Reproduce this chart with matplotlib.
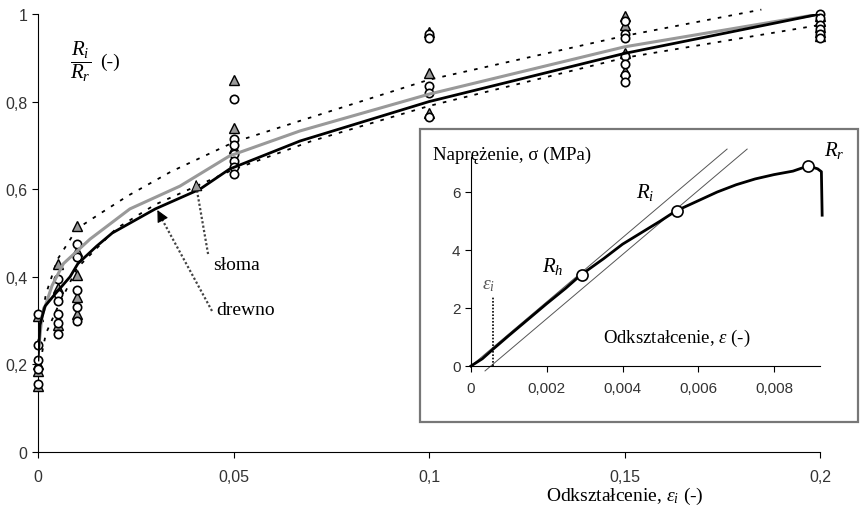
import numpy as np
import matplotlib
matplotlib.use("Agg")
import matplotlib.pyplot as plt
from matplotlib.patches import Rectangle, FancyArrowPatch

plt.rcParams.update({
    "font.family": "Liberation Sans",
    "mathtext.fontset": "custom",
    "mathtext.rm": "Liberation Serif",
    "mathtext.it": "Liberation Serif:italic",
    "mathtext.bf": "Liberation Serif:bold",
    "axes.unicode_minus": False,
})
SERIF = "Liberation Serif"

# --- main chart data: ratio R_i/R_r vs strain eps_i ---
drewno_x = [0, 0.0005, 0.0018, 0.0043, 0.0082, 0.0102, 0.015, 0.019, 0.030, 0.0414, 0.049, 0.067, 0.1, 0.15, 0.2]
drewno_y = [0.21, 0.29, 0.333, 0.36, 0.40, 0.43, 0.47, 0.50, 0.555, 0.60, 0.646, 0.71, 0.80, 0.91, 1.0]
sloma_x = [0, 0.001, 0.0036, 0.0065, 0.0133, 0.0235, 0.0363, 0.049, 0.067, 0.1, 0.15, 0.2]
sloma_y = [0.22, 0.31, 0.38, 0.43, 0.486, 0.555, 0.607, 0.676, 0.733, 0.817, 0.925, 1.0]
upper_x = [0, 0.002, 0.005, 0.01, 0.016, 0.023, 0.034, 0.05, 0.067, 0.1, 0.15, 0.185]
upper_y = [0.25, 0.36, 0.44, 0.51, 0.545, 0.585, 0.64, 0.707, 0.756, 0.85, 0.95, 1.01]
lower_x = [0, 0.002, 0.005, 0.01, 0.02, 0.03, 0.05, 0.07, 0.1, 0.15, 0.2]
lower_y = [0.18, 0.27, 0.33, 0.42, 0.51, 0.565, 0.645, 0.71, 0.79, 0.9, 0.975]

# measured points (circles = drewno, triangles = sloma)
circ_x = [0]*5 + [0.005]*6 + [0.01]*5 + [0.05]*7 + [0.1]*5 + [0.15]*7 + [0.2]*6
circ_y = [0.315, 0.245, 0.21, 0.19, 0.155,
          0.395, 0.36, 0.345, 0.315, 0.295, 0.27,
          0.475, 0.445, 0.37, 0.33, 0.30,
          0.805, 0.715, 0.70, 0.68, 0.665, 0.65, 0.635,
          0.955, 0.945, 0.835, 0.82, 0.765,
          0.985, 0.955, 0.945, 0.905, 0.885, 0.86, 0.845,
          1.0, 0.99, 0.975, 0.965, 0.955, 0.945]
tri_x = [0]*4 + [0.005]*3 + [0.01]*5 + [0.05]*3 + [0.1]*3 + [0.15]*4 + [0.2]*5
tri_y = [0.31, 0.2, 0.185, 0.15,
         0.43, 0.375, 0.29,
         0.515, 0.46, 0.405, 0.355, 0.315,
         0.85, 0.74, 0.695,
         0.96, 0.865, 0.775,
         0.995, 0.975, 0.91, 0.87,
         0.995, 0.985, 0.97, 0.96, 0.95]

xticks = [0, 0.05, 0.1, 0.15, 0.2]
xtick_labels = ["0", "0,05", "0,1", "0,15", "0,2"]
yticks = [0, 0.2, 0.4, 0.6, 0.8, 1.0]
ytick_labels = ["0", "0,2", "0,4", "0,6", "0,8", "1"]

# --- inset data: stress-strain curve ---
curve_x = [0, 0.0003, 0.0006, 0.001, 0.0015, 0.002, 0.0025, 0.0029, 0.0035, 0.004, 0.0045, 0.005,
           0.0054, 0.006, 0.0065, 0.007, 0.0075, 0.008, 0.0085, 0.0089, 0.00915, 0.00925, 0.00927]
curve_y = [0, 0.25, 0.6, 1.05, 1.6, 2.15, 2.68, 3.14, 3.7, 4.2, 4.6, 5.0,
           5.34, 5.7, 6.0, 6.25, 6.45, 6.6, 6.72, 6.9, 6.8, 6.7, 5.2]
tan1_x, tan1_y = [0.0, 0.00676], [0.0, 7.48]
tan2_x, tan2_y = [0.00037, 0.00729], [-0.17, 7.48]
pts_x = [0.00293, 0.00544, 0.0089]
pts_y = [3.14, 5.34, 6.9]
eps_i = 0.00058
in_xticks = [0, 0.002, 0.004, 0.006, 0.008]
in_xtick_labels = ["0", "0,002", "0,004", "0,006", "0,008"]
in_yticks = [0, 2, 4, 6]

fig = plt.figure(figsize=(8.61, 5.10), dpi=100)
ax = fig.add_axes([38/861, 57/510, 782/861, 438/510])

ax.plot(upper_x, upper_y, color="black", lw=1.3, ls=(0, (2, 4)), clip_on=False, zorder=2)
ax.plot(lower_x, lower_y, color="black", lw=1.3, ls=(0, (2, 4)), clip_on=False, zorder=2)
ax.plot(tri_x, tri_y, ls="none", marker="^", ms=6.5, mfc="#999999", mec="black", mew=1.0, zorder=3, clip_on=False)
ax.plot(circ_x, circ_y, ls="none", marker="o", ms=6, mfc="white", mec="black", mew=1.2, zorder=3, clip_on=False)
ax.plot(sloma_x, sloma_y, color="#999999", lw=2.2, zorder=4)
ax.plot(drewno_x, drewno_y, color="black", lw=2.0, zorder=5)

ax.set_xlim(0, 0.2)
ax.set_ylim(0, 1)
ax.set_xticks(xticks)
ax.set_xticklabels(xtick_labels)
ax.set_yticks(yticks)
ax.set_yticklabels(ytick_labels)
ax.tick_params(labelsize=11.5, labelcolor="#333333", length=4, direction="out")
ax.tick_params(axis="x", pad=8)
for s in ["top", "right"]:
    ax.spines[s].set_visible(False)

ax.text(0.0082, 0.893, r"$\dfrac{R_i}{R_r}$", fontsize=15, ha="left", va="center")
ax.text(0.0158, 0.893, "(-)", fontsize=14, family=SERIF, ha="left", va="center")

# arrows
ax.plot([0.0435, 0.0406], [0.452, 0.60], color="#444444", lw=1.6, ls=(0, (1, 1)), zorder=6)
ax.add_patch(FancyArrowPatch((0.0406, 0.596), (0.0404, 0.628), arrowstyle="-|>", mutation_scale=18,
                             fc="#999999", ec="black", lw=0.8, zorder=7))
ax.plot([0.0445, 0.0318], [0.322, 0.53], color="#444444", lw=1.6, ls=(0, (1, 1)), zorder=6)
ax.add_patch(FancyArrowPatch((0.0322, 0.524), (0.0302, 0.558), arrowstyle="-|>", mutation_scale=18,
                             fc="black", ec="black", lw=0.8, zorder=7))
ax.text(0.0448, 0.429, "słoma", family=SERIF, fontsize=14, ha="left", va="center")
ax.text(0.0455, 0.326, "drewno", family=SERIF, fontsize=14, ha="left", va="center")

fig.text(625/861, 14/510, r"Odkształcenie, $\varepsilon_i$ (-)", family=SERIF, fontsize=14,
         ha="center", va="center")

# inset frame
fig.patches.append(Rectangle((420/861, 87/510), 438/861, 293/510, transform=fig.transFigure,
                             fc="white", ec="#777777", lw=1.6, zorder=10))

ins = fig.add_axes([471/861, 143/510, 348.5/861, 208.8/510], zorder=11)
ins.patch.set_alpha(0)
ins.plot(tan1_x, tan1_y, color="#555555", lw=0.7, clip_on=False)
ins.plot(tan2_x, tan2_y, color="#555555", lw=0.7, clip_on=False)
ins.plot([eps_i, eps_i], [0, 2.38], color="black", lw=1.2, ls=(0, (1, 1)))
ins.plot(curve_x, curve_y, color="black", lw=2.0, clip_on=False)
ins.plot(pts_x, pts_y, ls="none", marker="o", ms=8, mfc="white", mec="black", mew=1.2, clip_on=False, zorder=5)
ins.set_xlim(0, 0.0092)
ins.set_ylim(0, 7.2)
ins.set_xticks(in_xticks)
ins.set_xticklabels(in_xtick_labels)
ins.set_yticks(in_yticks)
ins.tick_params(labelsize=11, labelcolor="#333333", length=4, direction="out")
ins.tick_params(axis="x", pad=7)
for s in ["top", "right"]:
    ins.spines[s].set_visible(False)

ins.text(0.00045, 2.8, r"$\varepsilon_i$", fontsize=14, color="#555555", ha="center", va="center")
ins.text(0.0046, 6.0, r"$R_i$", fontsize=15, ha="center", va="center")
ins.text(0.00217, 3.45, r"$R_h$", fontsize=15, ha="center", va="center")
ins.text(0.0096, 7.45, r"$R_r$", fontsize=15, ha="center", va="center", clip_on=False)
ins.text(0.00544, 1.0, r"Odkształcenie, $\varepsilon$ (-)", family=SERIF, fontsize=13.5,
         ha="center", va="center")
fig.text(433/861, (510-155)/510, "Naprężenie, σ (MPa)", family=SERIF, fontsize=13.5,
         ha="left", va="center", zorder=12)

fig.savefig("out.png", dpi=100, facecolor="white")
